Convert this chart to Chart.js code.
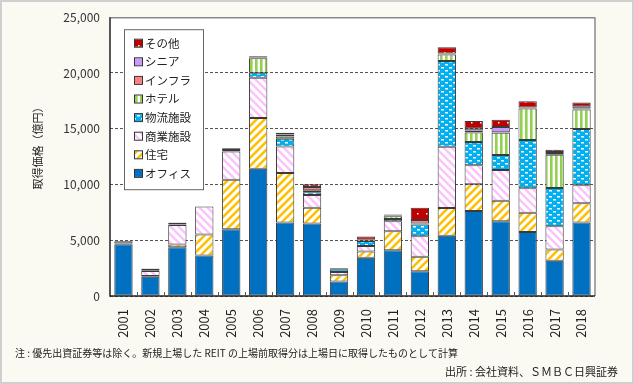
<!DOCTYPE html>
<html>
<head>
<meta charset="utf-8">
<script src="https://cdn.jsdelivr.net/npm/chart.js@4.4.0/dist/chart.umd.min.js"></script>
<style>
  html, body { margin: 0; padding: 0; background: #fafaf2; }
  canvas { display: block; }
</style>
</head>
<body>
<canvas id="chart" width="634" height="384"></canvas>
<script>
// years and series (億円)
const years = ["2001","2002","2003","2004","2005","2006","2007","2008","2009",
  "2010","2011","2012","2013","2014","2015","2016","2017","2018"];

const office      = [4650,1720,4380,3630,5980,11400,6580,6490,1300,3420,4110,2230,5400,7620,6700,5740,3150,6580];
const residential = [60,80,230,1875,4440,4560,4450,1420,550,560,1700,1300,2480,2400,1850,1720,1030,1740];
const commercial  = [200,450,1750,2530,2530,3620,2380,1150,300,500,900,1830,5500,1700,2750,2200,2080,1600];
const logistics   = [0,50,50,0,150,450,690,240,250,450,200,1060,7700,2100,1350,4330,3420,5050];
const hotel       = [20,150,150,0,150,1280,210,180,30,50,250,80,580,850,1980,2820,2980,1760];
const infra       = [0,0,0,0,0,80,180,300,0,60,50,320,80,180,50,100,80,80];
const senior      = [0,0,0,0,0,0,0,0,0,0,0,0,0,200,480,0,180,200];
const other       = [0,20,20,0,30,100,140,230,60,300,100,1100,560,650,650,560,200,350];

const seriesNames = ["オフィス","住宅","商業施設","物流施設","ホテル","インフラ","シニア","その他"];
const yTicks = [0, 5000, 10000, 15000, 20000, 25000];

const yTitle = "取得価格（億円）";
const noteText = "注 : 優先出資証券等は除く。新規上場した REIT の上場前取得分は上場日に取得したものとして計算";
const sourceText = "出所 : 会社資料、ＳＭＢＣ日興証券";

const FONT = '"Noto Sans CJK JP", "Noto Sans", sans-serif';

// --- fill patterns ---
function makePattern(w, h, draw) {
  const c = document.createElement("canvas");
  c.width = w; c.height = h;
  const g = c.getContext("2d");
  draw(g, w, h);
  return c.getContext("2d").createPattern(c, "repeat");
}

const pResidential = makePattern(8, 8, (g, w, h) => {
  g.fillStyle = "#fff"; g.fillRect(0, 0, w, h);
  g.strokeStyle = "#ffc000"; g.lineWidth = 2.6;
  g.beginPath();
  g.moveTo(-2, h + 2); g.lineTo(w + 2, -2);
  g.moveTo(-2, 2); g.lineTo(2, -2);
  g.moveTo(w - 2, h + 2); g.lineTo(w + 2, h - 2);
  g.stroke();
});
const pCommercial = makePattern(8, 8, (g, w, h) => {
  g.fillStyle = "#fff"; g.fillRect(0, 0, w, h);
  g.strokeStyle = "#fbc4fb"; g.lineWidth = 2.4;
  g.beginPath();
  g.moveTo(-2, -2); g.lineTo(w + 2, h + 2);
  g.moveTo(w - 2, -2); g.lineTo(w + 2, 2);
  g.moveTo(-2, h - 2); g.lineTo(2, h + 2);
  g.stroke();
});
const pLogistics = makePattern(8, 6, (g, w, h) => {
  g.fillStyle = "#00b0f0"; g.fillRect(0, 0, w, h);
  g.fillStyle = "#fff";
  g.fillRect(1, 1, 3, 1.5);
  g.fillRect(5, 4, 3, 1.5);
});
const pHotel = makePattern(5, 4, (g, w, h) => {
  g.fillStyle = "#fff"; g.fillRect(0, 0, w, h);
  g.fillStyle = "#92d050"; g.fillRect(0, 0, 2.6, h);
});
const pOther = makePattern(9, 7, (g, w, h) => {
  g.fillStyle = "#c00000"; g.fillRect(0, 0, w, h);
  g.fillStyle = "#fff"; g.fillRect(3, 3, 1.5, 1.5);
});

const fills = [ "#0070c0", pResidential, pCommercial, pLogistics, pHotel, "#ff8080", "#cc99ff", pOther ];
const values = [office, residential, commercial, logistics, hotel, infra, senior, other];

const datasets = seriesNames.map((name, i) => ({
  label: name,
  data: values[i],
  backgroundColor: fills[i],
  borderColor: "#3a3a3a",
  borderWidth: 1,
  borderSkipped: false,
  categoryPercentage: 1,
  barPercentage: 0.68
}));

// background, plot frame, legend, notes
const decor = {
  id: "decor",
  beforeDraw(chart) {
    const { ctx, chartArea: a, width, height } = chart;
    ctx.save();
    ctx.fillStyle = "#fafaf2";
    ctx.fillRect(0, 0, width, height);
    ctx.strokeStyle = "#cfcfcf";
    ctx.lineWidth = 2;
    ctx.strokeRect(1, 1, width - 2, height - 2);
    ctx.fillStyle = "#fff";
    ctx.fillRect(a.left, a.top, a.right - a.left, a.bottom - a.top);
    ctx.restore();
  },
  afterDraw(chart) {
    const { ctx, chartArea: a } = chart;
    const xs = chart.scales.x;
    ctx.save();

    // frame
    ctx.strokeStyle = "#8a8a8a";
    ctx.lineWidth = 1.5;
    ctx.beginPath();
    ctx.moveTo(a.left, a.top + 0.5); ctx.lineTo(a.right, a.top + 0.5);
    ctx.moveTo(a.right, a.top); ctx.lineTo(a.right, a.bottom);
    ctx.stroke();
    ctx.strokeStyle = "#222";
    ctx.beginPath();
    ctx.moveTo(a.left, a.top); ctx.lineTo(a.left, a.bottom);
    ctx.lineTo(a.right, a.bottom);
    ctx.stroke();

    // small inner ticks between categories
    ctx.strokeStyle = "#555";
    ctx.lineWidth = 1;
    ctx.beginPath();
    for (let i = 1; i < years.length; i++) {
      const x = Math.round((xs.getPixelForTick(i - 1) + xs.getPixelForTick(i)) / 2) + 0.5;
      ctx.moveTo(x, a.bottom - 4); ctx.lineTo(x, a.bottom);
    }
    ctx.stroke();

    // legend box
    const lx = a.left + 14, ly = a.top + 12, lw = 79, lh = 160;
    ctx.fillStyle = "#fff";
    ctx.fillRect(lx, ly, lw, lh);
    ctx.strokeStyle = "#666";
    ctx.lineWidth = 1;
    ctx.strokeRect(lx + 0.5, ly + 0.5, lw, lh);
    ctx.font = "11.5px " + FONT;
    ctx.textBaseline = "middle";
    ctx.textAlign = "left";
    const order = chart.data.datasets.slice().reverse();
    order.forEach((ds, k) => {
      const cy = ly + 14 + k * 18.6;
      ctx.fillStyle = ds.backgroundColor;
      ctx.fillRect(lx + 11, cy - 3.5, 7, 7);
      ctx.strokeStyle = "#333";
      ctx.strokeRect(lx + 10.5, cy - 4, 8, 8);
      ctx.fillStyle = "#222";
      ctx.fillText(ds.label, lx + 21, cy);
    });

    // y title
    ctx.save();
    ctx.translate(38, (a.top + a.bottom) / 2 - 11);
    ctx.rotate(-Math.PI / 2);
    ctx.textAlign = "center";
    ctx.font = "11px " + FONT;
    ctx.fillStyle = "#222";
    ctx.fillText(yTitle, 0, 0);
    ctx.restore();

    // notes
    ctx.font = "10px " + FONT;
    ctx.fillStyle = "#222";
    ctx.textAlign = "left";
    ctx.fillText(noteText, 15, 353);
    ctx.font = "11px " + FONT;
    ctx.textAlign = "right";
    ctx.fillText(sourceText, 618, 372);
    ctx.restore();
  }
};

new Chart(document.getElementById("chart"), {
  type: "bar",
  data: { labels: years, datasets },
  options: {
    responsive: false,
    devicePixelRatio: 1,
    animation: false,
    layout: { padding: { left: 0, right: 39, top: 16, bottom: 0 } },
    plugins: { legend: { display: false }, tooltip: { enabled: false } },
    scales: {
      x: {
        stacked: true,
        grid: { display: false },
        border: { display: false },
        ticks: {
          minRotation: 90, maxRotation: 90, padding: 5,
          color: "#222", font: { family: FONT, size: 13 }
        },
        afterFit(s) { s.height = 88; }
      },
      y: {
        stacked: true,
        min: 0, max: 25000,
        afterBuildTicks(s) { s.ticks = yTicks.map(v => ({ value: v })); },
        grid: { color: "#555", lineWidth: 1, drawTicks: false },
        border: { display: false, dash: [3, 2] },
        ticks: {
          padding: 10, color: "#333",
          font: { family: FONT, size: 12 },
          callback: v => v.toLocaleString("en-US")
        },
        afterFit(s) { s.width = 110; }
      }
    }
  },
  plugins: [decor]
});
</script>
</body>
</html>
